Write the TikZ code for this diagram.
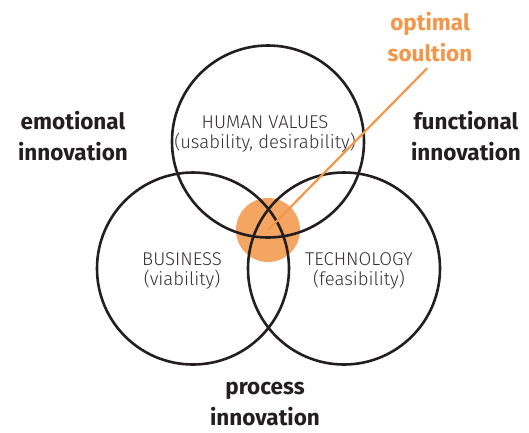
\documentclass[tikz,border=0pt]{standalone}
\usepackage{fontspec}
\setmainfont{Fira Sans}
\newfontfamily\thinfont{Fira Sans Light}
\usetikzlibrary{positioning}
\definecolor{ink}{HTML}{231F20}
\definecolor{peach}{HTML}{F5A562}
\definecolor{tangerine}{HTML}{F2964A}

\begin{document}
\begin{tikzpicture}[x=1pt, y=-1pt,
    area/.style={circle, draw=ink, line width=2.6pt, minimum size=192pt, inner sep=0pt},
    tag/.style={align=center, text=ink!92, font=\thinfont\fontsize{18.5}{20.5}\selectfont},
    big/.style={align=center, text=ink, font=\bfseries\fontsize{22.5}{31}\selectfont}]

    \useasboundingbox (0,0) rectangle (529,432);

    \node[circle, fill=peach, minimum size=64pt, inner sep=0pt] (sweet) at (268,230) {};

    \node[area] (human) at (268,141.5) {};
    \node[area] (business) at (193,268.5) {};
    \node[area] (tech) at (344,268.5) {};

    \node[tag] (humantxt) at (265,134) {HUMAN VALUES\\(usability, desirability)};
    \node[tag] (businesstxt) at (182,271) {BUSINESS\\(viability)};
    \node[tag] (techtxt) at (359,271) {TECHNOLOGY\\(feasibility)};

    \node[big] (emotional) at (73,136) {emotional\\innovation};
    \node[big] (functional) at (466,136) {functional\\innovation};
    \node[big] (process) at (265,404) {process\\innovation};
    \node[big, text=tangerine] (optimum) at (430,37) {optimal\\soultion};

    \draw[tangerine, line width=2.2pt, shorten >=4pt] (sweet.center) -- (optimum.south);

\end{tikzpicture}
\end{document}
